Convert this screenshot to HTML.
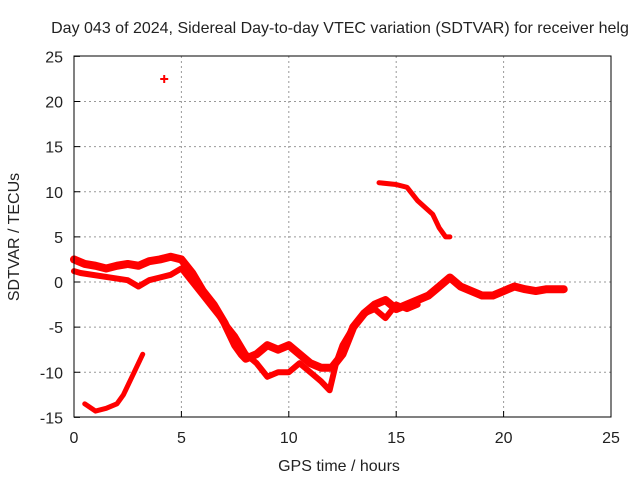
<!DOCTYPE html>
<html><head><meta charset="utf-8"><style>
body{margin:0;background:#fff}
svg text{font-family:"Liberation Sans",sans-serif;font-size:16px;fill:#222}
</style></head><body>
<svg id="c" width="640" height="480" xmlns="http://www.w3.org/2000/svg">
<rect width="640" height="480" fill="#fff"/>
<text x="340" y="33" text-anchor="middle">Day 043 of 2024, Sidereal Day-to-day VTEC variation (SDTVAR) for receiver helg</text>
<text x="339" y="471" text-anchor="middle">GPS time / hours</text>
<text transform="translate(19,237) rotate(-90)" text-anchor="middle">SDTVAR / TECUs</text>
<g id="grid"></g><g id="data"></g>
<rect x="74" y="56" width="537" height="361" fill="none" stroke="#000" stroke-width="1"/>
</svg>
<script>
const xTicks=[0,5,10,15,20,25];
const yTicks=[-15,-10,-5,0,5,10,15,20,25];
const t1=[0,0.5,1,1.5,2,2.5,3,3.5,4,4.5,5,5.5,6,6.5,7,7.5,7.8,8,8.5,9,9.5,10,10.5,11,11.5,12,12.5,13,13.5,14,14.5,15,15.5,16,16.5,17,17.5,18,18.5,19,19.5,20,20.5,21,21.5,22,22.5,22.8];
const v1=[2.5,2,1.8,1.5,1.8,2,1.8,2.3,2.5,2.8,2.5,1,-1,-2.5,-4.5,-7,-8,-8.5,-8,-7,-7.5,-7,-8,-9,-9.5,-9.5,-8,-5,-3.5,-2.5,-2,-3,-2.5,-2,-1.5,-0.5,0.5,-0.5,-1,-1.5,-1.5,-1,-0.5,-0.8,-1,-0.8,-0.8,-0.8];
const t2=[0,0.3,2.5,3,3.5,4,4.5,5,5.5,6,6.5,7,7.5,8,8.5,9,9.5,10,10.5,11,11.5,11.9,12.2,12.5,13,13.5,14,14.5,15,15.5,16];
const v2=[1.2,1,0.2,-0.5,0.2,0.5,0.8,1.5,0,-1.5,-3,-4.5,-6,-8,-9,-10.5,-10,-10,-9,-10,-11,-12,-9,-7,-5,-3.5,-3,-4,-2.5,-3,-2.5];
const t3=[0.5,1,1.5,2,2.3,2.7,3.2];
const v3=[-13.5,-14.3,-14,-13.5,-12.5,-10.5,-8];
const t4=[14.2,15,15.5,16,16.7,17,17.3,17.5];
const v4=[11,10.8,10.5,9,7.5,6,5,5];
const t5=[4.2];const v5=[22.5];
const X=t=>74+t*(537/25), Y=v=>282-v*(361/40);
const NS="http://www.w3.org/2000/svg";
const g=document.getElementById('grid'), d=document.getElementById('data'), svg=document.getElementById('c');
function mk(tag,a,p){const e=document.createElementNS(NS,tag);for(const k in a)e.setAttribute(k,a[k]);p.appendChild(e);return e;}
xTicks.forEach(t=>{
 if(t>0&&t<25){const l=mk('line',{x1:X(t),x2:X(t),y1:56,y2:417,stroke:'#999','stroke-dasharray':'2,3'},g);
 
 }
 const tk=mk('line',{x1:X(t),x2:X(t),y1:417,y2:411,stroke:'#000'},g);
 
 
 const tx=mk('text',{x:X(t),y:443,'text-anchor':'middle'},svg);tx.textContent=t;
 
 
});
yTicks.forEach(v=>{
 if(v>-15&&v<25){const l=mk('line',{x1:74,x2:611,y1:Y(v),y2:Y(v),stroke:'#999','stroke-dasharray':'2,3'},g);
 
 }
 const tk=mk('line',{x1:74,x2:80,y1:Y(v),y2:Y(v),stroke:'#000'},g);
 
 
 const tx=mk('text',{x:63,y:Y(v)+6,'text-anchor':'end'},svg);tx.textContent=v;
 
 
});
[[t1,v1,8],[t2,v2,6],[t3,v3,5],[t4,v4,5]].forEach(([ts,vs,w])=>{
 const p=mk('polyline',{points:ts.map((t,i)=>X(t)+','+Y(vs[i])).join(' '),fill:'none',stroke:'#f00','stroke-width':w,'stroke-linejoin':'round','stroke-linecap':'round'},d);
 
 
});
t5.forEach((t,i)=>{
 const p=mk('path',{d:`M${X(t)-4},${Y(v5[i])}h8M${X(t)},${Y(v5[i])-4}v8`,stroke:'#f00','stroke-width':2},d);
 
 
});
</script>
</body></html>
